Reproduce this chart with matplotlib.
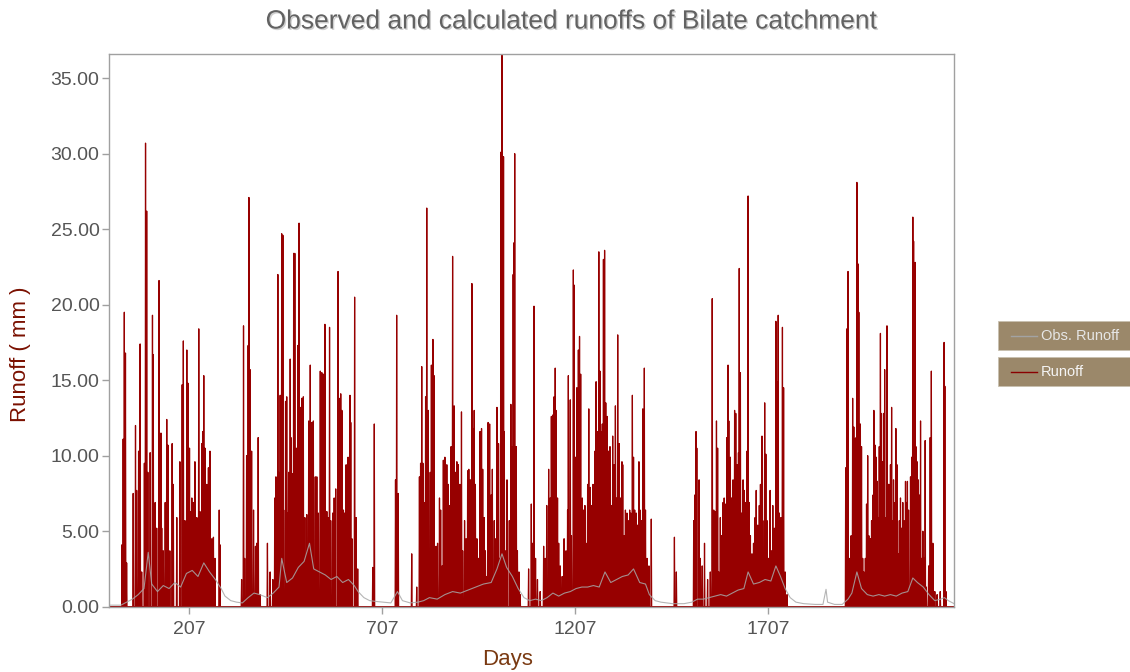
import numpy as np
import matplotlib
matplotlib.use('Agg')
import matplotlib.pyplot as plt
from matplotlib.patches import Rectangle
from matplotlib.lines import Line2D
import matplotlib.patheffects as pe

plt.rcParams['font.family'] = ['Liberation Sans', 'DejaVu Sans']

n_days = 2190

# calculated runoff peaks (day, mm) for each wet season, zero on the other days
season_a_days = [33, 36, 39, 42, 45, 62, 68, 71, 76, 80, 84, 91, 94, 97, 100, 106, 112, 114, 119, 123,
                 129, 134, 136, 140, 145, 149, 152, 157, 163, 166, 175, 183, 189, 192, 196, 201, 204, 208,
                 211, 214, 218, 222, 227, 232, 235, 240, 242, 245, 248, 253, 257, 261, 266, 270, 274, 285, 287]
season_a_mm = [4.1, 11.1, 19.5, 16.8, 2.9, 7.5, 12.0, 7.7, 10.3, 17.4, 2.3, 9.5, 30.7, 26.2, 8.9, 10.2, 19.3, 16.7, 6.9, 5.2,
               21.6, 11.5, 5.2, 3.7, 6.9, 12.4, 10.7, 3.7, 10.8, 8.1, 5.9, 9.6, 14.7, 17.6, 5.7, 17.0, 14.8, 10.5,
               6.3, 7.2, 6.9, 9.6, 5.9, 18.4, 6.3, 10.8, 11.6, 15.3, 10.5, 8.1, 9.2, 10.3, 4.5, 4.6, 3.2, 6.4, 4.1]

season_b_days = [343, 348, 351, 356, 360, 362, 365, 369, 374, 379, 382, 386, 391, 410, 417, 424, 429, 432, 437, 439,
                 443, 447, 450, 452, 457, 460, 463, 465, 469, 471, 475, 478, 481, 485, 489, 492, 495, 499, 503, 507,
                 512, 517, 521, 525, 529, 534, 538, 542, 547, 551, 555, 559, 564, 567, 571, 574, 579, 583, 587, 593,
                 596, 600, 603, 607, 610, 614, 619, 624, 626, 629, 636, 640, 644, 683, 687, 742, 745, 749, 784]
season_b_mm = [1.8, 18.6, 3.2, 10.0, 17.3, 27.1, 15.7, 10.3, 6.4, 4.0, 4.2, 11.2, 0.8, 4.2, 2.3, 1.8, 7.2, 8.6, 22.0, 8.9,
               14.0, 24.7, 24.6, 6.4, 13.6, 13.9, 6.2, 8.9, 16.4, 11.2, 8.8, 23.4, 23.4, 10.5, 17.3, 25.4, 13.2, 13.8, 13.9, 5.9,
               6.1, 12.3, 16.0, 12.2, 12.3, 8.6, 8.6, 6.2, 15.6, 15.5, 15.4, 18.7, 6.3, 5.9, 18.5, 5.7, 6.2, 7.2, 7.8, 22.2,
               13.8, 14.1, 13.0, 6.4, 6.2, 9.4, 9.9, 14.0, 12.2, 4.5, 20.5, 5.9, 2.5, 2.6, 12.1, 8.4, 19.3, 7.5, 3.5]

season_c_days = [797, 804, 807, 810, 813, 816, 820, 823, 827, 832, 835, 839, 842, 847, 851, 856, 859, 863, 866, 870,
                 875, 879, 883, 886, 890, 894, 897, 901, 905, 909, 913, 916, 921, 925, 929, 932, 936, 940, 943, 946,
                 949, 953, 957, 961, 965, 968, 972, 975, 979, 982, 986, 990, 993, 998, 1002, 1005, 1009, 1012, 1015, 1018,
                 1022, 1024, 1028, 1031, 1037, 1041, 1044, 1047, 1049, 1051, 1055, 1058, 1062, 1065, 1087, 1094, 1097, 1101,
                 1105, 1110, 1117]
season_c_mm = [1.3, 8.6, 9.5, 15.9, 9.5, 6.9, 13.9, 26.4, 13.0, 8.9, 16.0, 17.7, 15.3, 4.0, 4.2, 7.2, 6.4, 2.7, 9.7, 9.9,
               9.4, 8.1, 6.7, 10.6, 23.2, 13.3, 8.9, 9.6, 9.4, 8.1, 12.9, 3.7, 5.7, 4.5, 9.0, 9.1, 8.4, 21.4, 11.8, 13.0,
               8.1, 4.5, 3.2, 11.6, 11.8, 9.1, 5.9, 3.7, 2.0, 12.2, 12.1, 7.4, 9.1, 5.7, 4.5, 13.2, 10.8, 3.2, 30.1, 38.0,
               29.8, 11.6, 3.7, 8.4, 5.7, 13.4, 10.6, 22.0, 24.1, 30.0, 10.6, 3.7, 2.3, 0.8, 2.5, 6.8, 4.2, 19.9,
               3.2, 1.8, 1.0]

season_d_days = [1126, 1130, 1134, 1139, 1143, 1146, 1150, 1153, 1156, 1158, 1162, 1165, 1169, 1174, 1179, 1184, 1188, 1190,
                 1195, 1198, 1203, 1205, 1209, 1212, 1216, 1219, 1222, 1226, 1229, 1233, 1236, 1240, 1243, 1247, 1250, 1254,
                 1259, 1262, 1266, 1269, 1272, 1274, 1278, 1281, 1284, 1287, 1291, 1294, 1298, 1302, 1305, 1309, 1312, 1315,
                 1318, 1322, 1325, 1329, 1331, 1335, 1338, 1342, 1345, 1349, 1352, 1356, 1359, 1362, 1366, 1369, 1373, 1376,
                 1380, 1383, 1387, 1390, 1394, 1399, 1405, 1465, 1470]
season_d_mm = [4.0, 3.2, 6.7, 9.1, 7.2, 12.6, 12.7, 13.9, 15.8, 13.0, 7.2, 4.2, 2.7, 2.0, 4.5, 3.7, 6.4, 15.3,
               13.7, 4.7, 22.3, 21.3, 9.9, 14.5, 17.0, 17.9, 15.4, 7.2, 6.4, 6.7, 4.2, 8.1, 13.1, 7.9, 6.7, 8.1,
               10.3, 14.9, 11.6, 23.5, 15.6, 11.6, 12.1, 23.0, 23.6, 13.5, 12.6, 10.3, 10.6, 6.7, 11.3, 9.4, 13.3, 7.2,
               18.0, 10.8, 7.2, 9.6, 9.4, 4.7, 6.4, 6.2, 5.7, 6.4, 6.2, 14.0, 9.9, 6.4, 6.2, 5.4, 9.6, 6.4,
               5.7, 13.1, 15.8, 6.4, 3.2, 2.7, 5.8, 4.6, 2.3]

season_e_days = [1515, 1518, 1521, 1523, 1529, 1532, 1537, 1543, 1551, 1558, 1563, 1567, 1570, 1574, 1577, 1580, 1584, 1587,
                 1591, 1594, 1598, 1601, 1604, 1606, 1610, 1613, 1617, 1621, 1624, 1628, 1631, 1633, 1636, 1639, 1643, 1646,
                 1650, 1653, 1656, 1659, 1662, 1666, 1670, 1674, 1677, 1681, 1685, 1688, 1692, 1694, 1699, 1702, 1705, 1709,
                 1713, 1717, 1720, 1724, 1728, 1731, 1734, 1737, 1741, 1745, 1748, 1752, 1757]
season_e_mm = [5.7, 7.4, 11.6, 10.5, 8.4, 3.2, 2.7, 4.2, 1.8, 2.3, 20.4, 6.4, 6.3, 12.3, 10.5, 2.3, 5.9, 4.7,
               6.9, 7.2, 6.8, 11.2, 16.0, 12.3, 9.9, 7.2, 8.4, 13.0, 12.8, 9.4, 10.2, 22.4, 15.5, 6.2, 8.4, 7.7,
               6.9, 10.3, 27.2, 6.9, 4.7, 3.5, 4.2, 5.9, 7.7, 5.4, 6.7, 8.1, 11.3, 5.7, 13.5, 10.1, 5.7, 3.2,
               7.7, 3.7, 6.7, 5.2, 18.9, 14.9, 19.3, 6.2, 5.9, 18.5, 14.5, 2.3, 0.8]

season_f_days = [1909, 1912, 1915, 1918, 1923, 1927, 1930, 1933, 1936, 1938, 1941, 1943, 1947, 1950, 1953, 1956, 1960, 1963,
                 1966, 1969, 1973, 1976, 1980, 1982, 1985, 1988, 1991, 1994, 1996, 1999, 2001, 2004, 2007, 2010, 2013, 2016,
                 2019, 2021, 2025, 2028, 2031, 2033, 2037, 2039, 2042, 2045, 2048, 2051, 2054, 2057, 2060, 2064, 2066, 2069,
                 2072, 2077, 2080, 2083, 2085, 2089, 2091, 2094, 2097, 2101, 2103, 2106, 2109, 2112, 2115, 2118, 2124, 2128,
                 2131, 2135, 2140, 2146, 2154, 2164, 2166, 2169]
season_f_mm = [9.2, 18.4, 22.2, 3.2, 4.7, 13.8, 11.9, 11.1, 11.2, 28.1, 22.7, 19.5, 12.1, 10.6, 3.2, 2.3, 3.2, 6.8,
               10.0, 4.7, 4.5, 5.7, 7.4, 13.0, 10.7, 9.9, 8.3, 5.9, 10.6, 18.1, 12.8, 9.6, 12.8, 15.7, 5.9, 18.6,
               8.1, 8.1, 9.4, 13.2, 5.7, 8.4, 6.9, 11.8, 9.4, 3.5, 5.7, 7.2, 5.2, 6.9, 5.7, 8.3, 6.9, 8.3,
               6.4, 8.6, 9.9, 25.8, 24.2, 22.8, 10.6, 9.6, 8.4, 7.4, 12.3, 3.2, 5.0, 3.2, 11.0, 1.3, 2.7, 11.2,
               15.6, 4.2, 1.0, 0.8, 1.0, 17.5, 14.6, 1.0]

# observed runoff (day, mm)
obs_days = [1, 30, 45, 60, 75, 90, 101, 110, 125, 140, 155, 170, 185, 200, 215, 230, 245, 260, 275, 290,
            300, 315, 330, 345, 360, 375, 390, 410, 425, 440, 447, 460, 475, 490, 505, 519, 530, 545, 560, 575,
            590, 605, 620, 635, 645, 660, 675, 690, 710, 730, 747, 760, 780, 800, 815, 830, 850, 870, 890, 910,
            930, 950, 970, 990, 1005, 1018, 1030, 1045, 1060, 1075, 1090, 1105, 1120, 1135, 1150, 1165, 1180, 1195,
            1210, 1225, 1240, 1255, 1270, 1285, 1300, 1315, 1330, 1345, 1359, 1375, 1390, 1400, 1415, 1430, 1460,
            1490, 1510, 1525, 1540, 1555, 1570, 1585, 1600, 1615, 1630, 1645, 1656, 1670, 1685, 1700, 1715, 1728,
            1740, 1752, 1765, 1780, 1800, 1830, 1850, 1858, 1862, 1880, 1900, 1915, 1925, 1938, 1950, 1965, 1980,
            1995, 2010, 2025, 2040, 2055, 2070, 2083, 2095, 2110, 2125, 2140, 2155, 2165, 2175, 2190]
obs_mm = [0.1, 0.1, 0.3, 0.5, 0.8, 1.2, 3.6, 1.5, 1.0, 1.4, 1.2, 1.6, 1.3, 2.2, 2.4, 2.0, 2.9, 2.3, 1.8, 1.2,
          0.7, 0.4, 0.3, 0.25, 0.6, 0.9, 0.8, 0.6, 0.9, 1.3, 3.2, 1.6, 1.9, 2.6, 3.0, 4.2, 2.5, 2.3, 2.1, 1.8,
          2.0, 1.6, 1.8, 1.4, 1.0, 0.6, 0.4, 0.35, 0.3, 0.25, 1.0, 0.4, 0.25, 0.3, 0.4, 0.6, 0.5, 0.8, 1.0, 0.9,
          1.1, 1.3, 1.5, 1.6, 2.5, 3.5, 2.6, 2.0, 1.2, 0.6, 0.4, 0.5, 0.4, 0.6, 0.9, 0.7, 0.9, 1.0,
          1.2, 1.3, 1.3, 1.4, 1.3, 2.3, 1.6, 1.8, 2.0, 2.1, 2.5, 1.6, 1.5, 0.8, 0.4, 0.3, 0.2,
          0.2, 0.3, 0.5, 0.5, 0.6, 0.7, 0.8, 0.7, 0.9, 1.1, 1.2, 2.3, 1.5, 1.6, 1.8, 1.7, 2.7,
          2.0, 1.2, 0.6, 0.3, 0.2, 0.15, 0.15, 1.15, 0.3, 0.15, 0.15, 0.5, 0.9, 2.3, 1.2, 0.8, 0.7,
          0.8, 0.7, 0.8, 0.7, 0.9, 1.0, 1.9, 1.6, 1.3, 0.8, 0.4, 0.5, 0.6, 0.4, 0.2]

peak_days = np.concatenate([season_a_days, season_b_days, season_c_days,
                            season_d_days, season_e_days, season_f_days])
peak_mm = np.concatenate([season_a_mm, season_b_mm, season_c_mm,
                          season_d_mm, season_e_mm, season_f_mm])

days = np.arange(1, n_days + 1)
runoff = np.zeros(n_days)
runoff[peak_days - 1] = peak_mm

fig = plt.figure(figsize=(11.3, 6.72), dpi=100)
ax = fig.add_axes([0.0967, 0.0972, 0.7473, 0.8224])

red = '#970000'
grey = '#a3a3a3'
ax.plot(days, runoff, color=red, lw=0.9, zorder=2)
ax.plot(obs_days, obs_mm, color='#a8a8a8', lw=0.8, alpha=0.85, zorder=3)

ax.set_xlim(0, 2189)
ax.set_ylim(0, 36.6)
ax.set_xticks([207, 707, 1207, 1707])
ax.set_yticks(np.arange(0, 36, 5))
ax.yaxis.set_major_formatter(matplotlib.ticker.FormatStrFormatter('%.2f'))

for s in ax.spines.values():
    s.set_color('#a0a0a0')
    s.set_linewidth(1.0)
    s.set_zorder(4)
ax.tick_params(axis='both', colors='#a0a0a0', labelcolor='#555555', labelsize=14,
               length=5, width=1.0)
ax.tick_params(axis='y', pad=2)
ax.tick_params(axis='x', pad=5)

ax.set_ylabel('Runoff ( mm )', fontsize=16, color='#7a1000')
ax.yaxis.set_label_coords(-0.093, 0.457)
ax.set_xlabel('Days', fontsize=16, color='#7a3a12')
ax.xaxis.set_label_coords(0.472, -0.077)

title = fig.text(0.506, 0.968, 'Observed and calculated runoffs of Bilate catchment',
                 ha='center', va='center', fontsize=19, color='#626262')
title.set_path_effects([pe.withSimplePatchShadow(offset=(1, -1), shadow_rgbFace='#c4c4c4', alpha=0.8)])

# legend as two separate tan boxes
box_color = '#9b886a'
legend_items = [('Obs. Runoff', grey, '#e6e6e6', 321), ('Runoff', '#8a0000', '#f4f4f4', 357)]
for label, lc, tc, top in legend_items:
    y0 = 1 - (top + 29) / 672
    fig.patches.append(Rectangle((998 / 1130, y0), 132 / 1130, 29 / 672,
                                 transform=fig.transFigure, facecolor=box_color,
                                 edgecolor='#c8c0b0', lw=0.6))
    yc = y0 + 14.5 / 672
    fig.lines.append(Line2D([1011 / 1130, 1037 / 1130], [yc, yc], transform=fig.transFigure,
                            color=lc, lw=1.0))
    fig.text(1041 / 1130, yc, label, ha='left', va='center', fontsize=10.5, color=tc)

fig.savefig('out.png', dpi=100)
